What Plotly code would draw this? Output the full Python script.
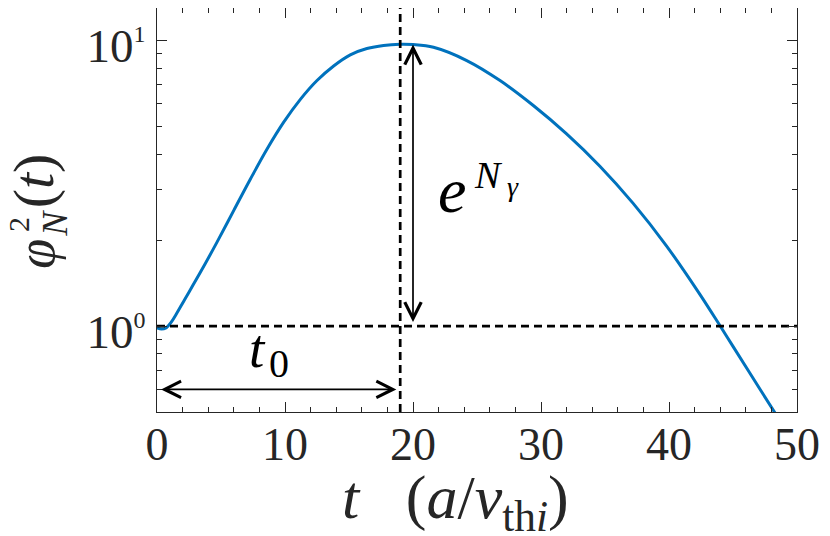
import math
import plotly.graph_objects as go

# ---- data ----
t_vals = [0, 0.35, 0.7, 1.1, 1.5, 2.1, 3.4, 4.7, 6.0, 7.3, 8.6, 9.9, 11.2, 12.5, 13.8, 15.1,
          16.4, 17.7, 19.0, 20.0, 21.6, 24.2, 26.8, 29.4, 32.0, 34.6, 37.2, 39.8,
          42.4, 44.0, 45.0, 46.3, 48.3, 49.0]
phi2_vals = [0.985, 0.976, 0.985, 1.03, 1.10, 1.225, 1.545, 1.972, 2.541, 3.273, 4.169, 5.176,
             6.223, 7.244, 8.147, 8.913, 9.376, 9.616, 9.705, 9.68, 9.47, 8.51, 7.24, 5.92, 4.71,
             3.63, 2.69, 1.91, 1.294, 1.0, 0.849, 0.686, 0.495, 0.442]

t_peak = 19.0          # vertical dashed line (t0)
t_arrow = 20.0         # position of e^{N_gamma} arrow
peak_val = 9.68
ref_level = 1.0
t_range = [0, 50]
t0_arrow_y = 0.6

x_ticks = [0, 10, 20, 30, 40, 50]
y_ticks = [1, 10]
y_ticktext = ["10<sup><span style='font-size:24px'>0</span></sup>",
              "10<sup><span style='font-size:24px'>1</span></sup>"]
y_minor = [0.5, 0.6, 0.7, 0.8, 0.9, 2, 3, 4, 5, 6, 7, 8, 9]

FONT = "Times New Roman, Liberation Serif, serif"
AX = "#262626"
dash = "8px,5px"

fig = go.Figure()
fig.add_trace(go.Scatter(x=t_vals, y=phi2_vals, mode="lines",
                         line=dict(color="#0072BD", width=3, shape="spline", smoothing=1.0),
                         hoverinfo="skip", showlegend=False))
# horizontal reference level phi^2 = 1
fig.add_trace(go.Scatter(x=t_range, y=[ref_level, ref_level], mode="lines",
                         line=dict(color="black", width=2.7, dash=dash),
                         hoverinfo="skip", showlegend=False))
# vertical line at t0
fig.add_shape(type="line", xref="x", x0=t_peak, x1=t_peak, yref="paper", y0=0, y1=1,
              line=dict(color="black", width=2.7, dash=dash))

# arrows
fig.add_annotation(x=t_arrow, y=math.log10(peak_val), ax=t_arrow, ay=math.log10(1.02),
                   xref="x", yref="y", axref="x", ayref="y", text="", showarrow=True,
                   arrowhead=5, startarrowhead=5, arrowside="end+start",
                   arrowsize=1.9, startarrowsize=1.9, arrowwidth=1.7, arrowcolor="black",
                   standoff=0, startstandoff=0)
fig.add_annotation(x=18.7, y=math.log10(t0_arrow_y), ax=0.2, ay=math.log10(t0_arrow_y),
                   xref="x", yref="y", axref="x", ayref="y", text="", showarrow=True,
                   arrowhead=5, startarrowhead=5, arrowside="end+start",
                   arrowsize=1.9, startarrowsize=1.9, arrowwidth=1.7, arrowcolor="black",
                   standoff=0, startstandoff=0)

def txt(text, x, y, size, xref="x", yref="y", angle=0, color="black", yanchor="middle"):
    fig.add_annotation(x=x, y=y, xref=xref, yref=yref, text=text, showarrow=False,
                       xanchor="center", yanchor=yanchor, textangle=angle,
                       font=dict(family=FONT, size=size, color=color))

# e^{N_gamma}
txt("<i>e</i>", 23.05, 0.475, 64)
txt("<i>N</i>", 25.86, 0.528, 38)
txt("<i>γ</i>", 27.81, 0.4886, 28)
# t0
txt("<i>t</i>", 7.89, -0.0785, 55)
txt("0", 9.53, -0.1313, 40)

# y title pieces (rotated)
txt("<i>φ</i>", -0.1894, 0.391, 54, "paper", "paper", -90, AX)
txt("2", -0.2173, 0.4653, 30, "paper", "paper", -90, AX)
txt("<i>N</i>", -0.1596, 0.4678, 36, "paper", "paper", -90, AX)
txt("(<i>t</i>)", -0.1916, 0.5718, 58, "paper", "paper", -90, AX)
# x title
txt("<i>t</i>\u2002 (<i>a</i>/<i>v</i><sub>th<i>i</i></sub>)", 0.466, -0.1225, 62,
    "paper", "paper", 0, AX, yanchor="top")

axis_common = dict(showgrid=False, zeroline=False, showline=True, linecolor=AX, linewidth=1.3,
                   ticks="inside", ticklen=10, tickwidth=1.3, tickcolor=AX, mirror="ticks")

fig.update_xaxes(range=t_range, tickvals=x_ticks,
                 tickfont=dict(family=FONT, size=46, color=AX),
                 minor=dict(ticks="inside", ticklen=5, tickwidth=1.3, tickcolor=AX, dtick=2, tick0=0),
                 **axis_common)
fig.update_yaxes(type="log", range=[math.log10(0.5), math.log10(13)],
                 tickvals=y_ticks, ticktext=y_ticktext,
                 tickfont=dict(family=FONT, size=47, color=AX),
                 minor=dict(ticks="inside", ticklen=5, tickwidth=1.3, tickcolor=AX, tickvals=y_minor),
                 ticklabelstandoff=1, ticklabelshift=5, **axis_common)
try:
    fig.update_xaxes(ticklabelstandoff=-8)
except Exception:
    fig.update_xaxes(ticklabelstandoff=0)

# page body has an 8px margin: size the figure so the plot area lands where the reference has it
fig.update_layout(width=822, height=528,
                  margin=dict(l=149, r=33, t=0, b=124, autoexpand=False),
                  paper_bgcolor="white", plot_bgcolor="white", showlegend=False)

fig.write_html("out.html")
